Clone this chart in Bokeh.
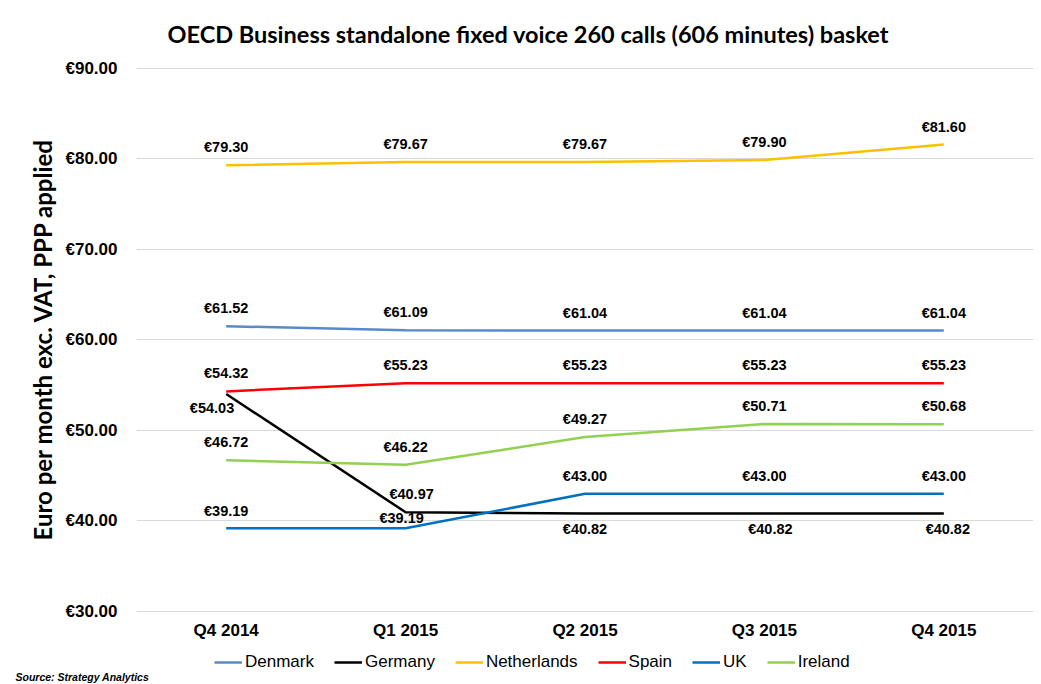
from bokeh.plotting import figure
from bokeh.models import (FactorRange, Range1d, FixedTicker, Legend, LegendItem,
                          ColumnDataSource, Title)
from bokeh.core.properties import value
from bokeh.embed import file_html
from bokeh.resources import INLINE

# ---------------- data ----------------
quarters = ["Q4 2014", "Q1 2015", "Q2 2015", "Q3 2015", "Q4 2015"]
denmark = [61.52, 61.09, 61.04, 61.04, 61.04]
germany = [54.03, 40.97, 40.82, 40.82, 40.82]
netherlands = [79.30, 79.67, 79.67, 79.90, 81.60]
spain = [54.32, 55.23, 55.23, 55.23, 55.23]
uk = [39.19, 39.19, 43.00, 43.00, 43.00]
ireland = [46.72, 46.22, 49.27, 50.71, 50.68]
series_names = ["Denmark", "Germany", "Netherlands", "Spain", "UK", "Ireland"]
y_ticks = [30, 40, 50, 60, 70, 80, 90]
y_tick_labels = ["€30.00", "€40.00", "€50.00", "€60.00", "€70.00", "€80.00", "€90.00"]
title_text = "OECD Business standalone fixed voice 260 calls (606 minutes) basket"
y_title = "Euro per month exc. VAT, PPP applied"
source_text = "Source:  Strategy Analytics"

# ---------------- styles ----------------
colors = {"Denmark": "#5A89C8", "Germany": "#000000", "Netherlands": "#FFC000",
          "Spain": "#FF0000", "UK": "#0070C0", "Ireland": "#92D050"}
values_by_name = {"Denmark": denmark, "Germany": germany, "Netherlands": netherlands,
                  "Spain": spain, "UK": uk, "Ireland": ireland}
default_off = [(0, -18, "center")] * 5
label_offsets = {
    "Germany": [(8, 14, "right"), (6, -18, "center"), (0, 15, "center"), (6, 15, "center"), (4, 15, "center")],
    "UK": [(0, -17, "center"), (-4, -10, "center"), (0, -18, "center"), (0, -18, "center"), (0, -18, "center")],
}

# frame extends below the 30 line so the legend can sit inside it
p = figure(frame_width=897, frame_height=603, x_range=FactorRange(*quarters),
           y_range=Range1d(23.48, 90.11),
           output_backend="svg", toolbar_location=None,
           min_border_left=136, min_border_right=8, min_border_top=67, min_border_bottom=0)
p.outline_line_color = None
p.xgrid.grid_line_color = None
p.ygrid.grid_line_color = "#D9D9D9"
p.ygrid.grid_line_width = 1

p.title.text = title_text
p.title.align = "left"
p.title.offset = 31
p.title.standoff = 36
p.title.vertical_align = "top"
p.title.text_font = "Lato"
p.title.text_font_style = "bold"
p.title.text_font_size = "23.5px"
p.title.text_color = "#000000"

p.yaxis.ticker = FixedTicker(ticks=y_ticks)
p.yaxis.major_label_overrides = {t: l for t, l in zip(y_ticks, y_tick_labels)}
for ax in (p.xaxis[0], p.yaxis[0]):
    ax.axis_line_color = None
    ax.major_tick_line_color = None
    ax.minor_tick_line_color = None
    ax.major_tick_out = 0
    ax.major_tick_in = 0
    ax.minor_tick_out = 0
    ax.minor_tick_in = 0
    ax.major_label_text_font = "Liberation Sans"
    ax.major_label_text_font_style = "bold"
    ax.major_label_text_font_size = "17px"
    ax.major_label_text_color = "#000000"
p.yaxis.major_label_standoff = 19
p.xaxis.major_label_standoff = 10
p.xaxis.fixed_location = 30

y_title_obj = Title(text=y_title, align="left", offset=130, standoff=10,
                    vertical_align="middle", text_font="Lato", text_font_style="bold",
                    text_font_size="24px", text_color="#000000")
p.add_layout(y_title_obj, "left")

items = []
for name in series_names:
    vals = values_by_name[name]
    r = p.line(x=quarters, y=vals, line_color=colors[name], line_width=2.5)
    items.append(LegendItem(label=name, renderers=[r]))
    offs = label_offsets.get(name, default_off)
    src = ColumnDataSource(dict(x=quarters, y=vals, t=["€%.2f" % v for v in vals],
                                dx=[o[0] for o in offs], dy=[o[1] for o in offs],
                                al=[o[2] for o in offs]))
    p.text(x="x", y="y", text="t", x_offset="dx", y_offset="dy", text_align="al",
           text_baseline="middle", text_font=value("Liberation Sans"), text_font_style="bold",
           text_font_size="14.5px", text_color="#000000", source=src)

legend = Legend(items=items, orientation="horizontal", location=(78, -2),
                glyph_width=28, glyph_height=16, label_height=16, label_standoff=3, spacing=20,
                padding=0, margin=0, border_line_alpha=0, background_fill_alpha=0,
                label_text_font="Liberation Sans", label_text_font_size="17px",
                label_text_color="#000000")
p.add_layout(legend, "center")

src_title = Title(text=source_text, align="left", offset=-121, standoff=0,
                  vertical_align="top",
                  text_font="Liberation Sans", text_font_style="bold italic",
                  text_font_size="10.5px", text_color="#000000")
p.below = [src_title] + list(p.below)

open("out.html", "w").write(file_html(p, INLINE))
